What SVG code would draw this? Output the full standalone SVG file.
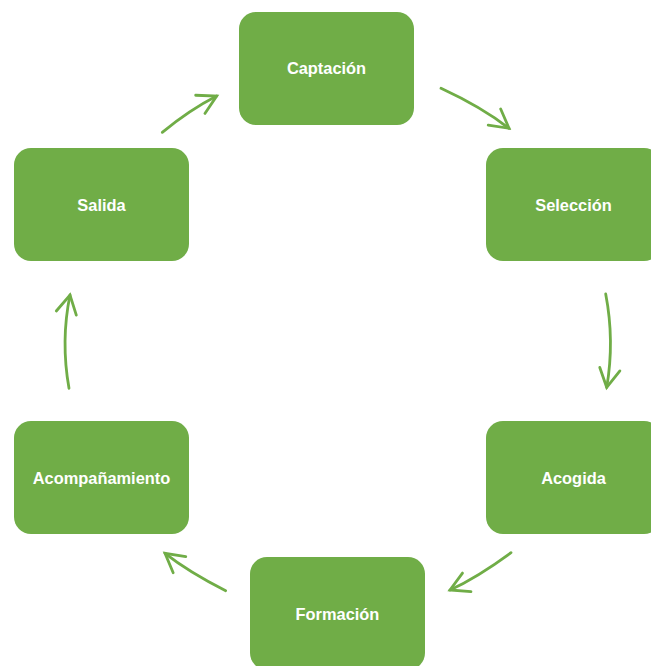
<svg xmlns="http://www.w3.org/2000/svg" width="651" height="666" viewBox="0 0 651 666">
  <style>
    .node rect { fill: #70AD47; }
    .node text { fill: #FFFFFF; font-family: "Liberation Sans", Arial, sans-serif; font-weight: bold; font-size: 16.4px; text-anchor: middle; }
    .conn path { fill: none; stroke: #70AD47; stroke-width: 2.8; stroke-linecap: round; }
  </style>
  <defs>
    <marker id="arrow" markerUnits="userSpaceOnUse" viewBox="-22 -14 26 28" refX="0" refY="0" markerWidth="26" markerHeight="28" orient="auto" overflow="visible">
      <path d="M-18.4,-10.2 L0,0 L-18.4,10.2" fill="none" stroke="#70AD47" stroke-width="2.8" stroke-linecap="round" stroke-linejoin="miter"/>
    </marker>
  </defs>
  <rect width="651" height="666" fill="#FFFFFF"/>
  <g id="connectors" class="conn">
    <path d="M162.3,132.3 Q190,109.6 216.7,96" marker-end="url(#arrow)"/>
    <path d="M441,88.3 Q481.3,106.9 509,128.3" marker-end="url(#arrow)"/>
    <path d="M605.7,294 Q614.7,341 606.7,387.3" marker-end="url(#arrow)"/>
    <path d="M511,552.7 Q477.3,577.5 450,590" marker-end="url(#arrow)"/>
    <path d="M225.7,590.7 Q188.6,571.8 165,553.3" marker-end="url(#arrow)"/>
    <path d="M69,388.3 Q60.6,341 70,295" marker-end="url(#arrow)"/>
  </g>
  <g id="captacion" class="node">
    <rect x="239" y="12" width="175" height="113" rx="17" ry="17"/>
    <text x="326.5" y="74">Captación</text>
  </g>
  <g id="seleccion" class="node">
    <rect x="486" y="148" width="175" height="113" rx="17" ry="17"/>
    <text x="573.5" y="210.5">Selección</text>
  </g>
  <g id="acogida" class="node">
    <rect x="486" y="421" width="175" height="113" rx="17" ry="17"/>
    <text x="573.5" y="483.5">Acogida</text>
  </g>
  <g id="formacion" class="node">
    <rect x="250" y="557" width="175" height="113" rx="17" ry="17"/>
    <text x="337.5" y="619.5">Formación</text>
  </g>
  <g id="acompanamiento" class="node">
    <rect x="14" y="421" width="175" height="113" rx="17" ry="17"/>
    <text x="101.5" y="483.5">Acompañamiento</text>
  </g>
  <g id="salida" class="node">
    <rect x="14" y="148" width="175" height="113" rx="17" ry="17"/>
    <text x="101.5" y="210.5">Salida</text>
  </g>
</svg>
